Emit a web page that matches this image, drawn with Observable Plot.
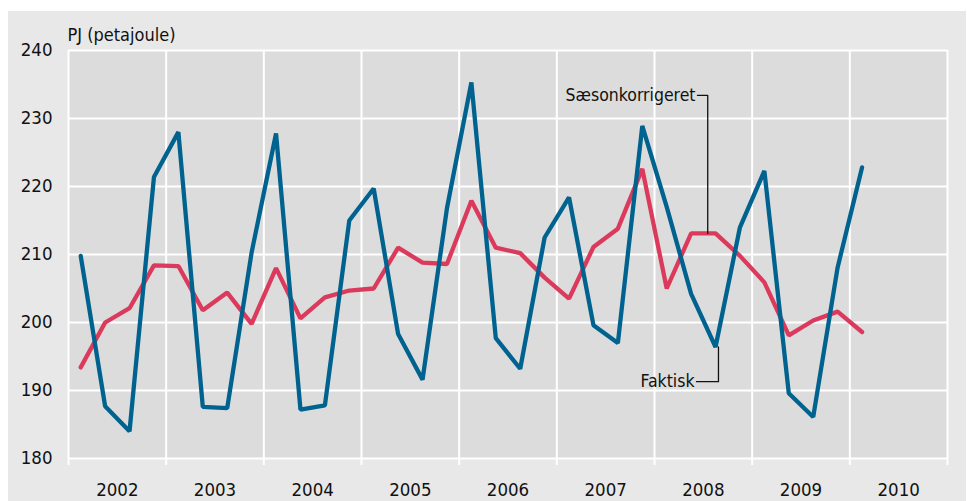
<!DOCTYPE html>
<html>
<head>
<meta charset="utf-8">
<script src="https://cdn.jsdelivr.net/npm/d3@7"></script>
<script src="https://cdn.jsdelivr.net/npm/@observablehq/plot@0.6"></script>
<style>
  html, body { margin: 0; padding: 0; background: #ffffff; }
  #wrap { position: relative; width: 967px; height: 501px; overflow: hidden; }
  #bg { position: absolute; left: 8px; top: 11px; width: 958px; height: 490px; background: #e8e8e8; }
  #chart { position: absolute; left: 0; top: 0; }
</style>
</head>
<body>
<div id="wrap"><div id="bg"></div><div id="chart"></div></div>
<script>
// ---- Data ----
const years = [2002, 2003, 2004, 2005, 2006, 2007, 2008, 2009, 2010];
const quarters = [1, 2, 3, 4];
const faktisk = [
  209.8, 187.7, 184.0, 221.4,
  228.0, 187.6, 187.4, 210.3,
  227.8, 187.2, 187.8, 215.0,
  219.7, 198.3, 191.6, 216.8,
  235.3, 197.7, 193.2, 212.5,
  218.4, 199.6, 197.0, 228.9,
  217.0, 204.2, 196.4, 214.0,
  222.3, 189.6, 186.1, 208.1,
  222.8
];
const saesonkorrigeret = [
  193.4, 200.0, 202.1, 208.4,
  208.3, 201.8, 204.4, 199.8,
  208.0, 200.6, 203.7, 204.7,
  205.0, 211.0, 208.8, 208.6,
  217.9, 211.0, 210.2, 206.6,
  203.5, 211.1, 213.8, 222.6,
  205.0, 213.1, 213.1, 209.8,
  205.9, 198.1, 200.3, 201.6,
  198.6
];
const yTicks = [180, 190, 200, 210, 220, 230, 240];
const unitLabel = "PJ (petajoule)";
const labelSaeson = "Sæsonkorrigeret";
const labelFaktisk = "Faktisk";

// annotation anchors (in data units)
const saesonLeader = [[2008.44, 233.4], [2008.545, 233.4], [2008.545, 213.1]];
const faktiskLeader = [[2008.43, 191.3], [2008.655, 191.3], [2008.655, 196.4]];
const saesonText = [[2008.42, 233.4]];
const faktiskText = [[2008.41, 191.3]];

// ---- Build tables ----
const periods = [];
years.forEach(y => quarters.forEach(q => periods.push({year: y, q})));
const toX = (p) => p.year + (p.q - 0.5) / 4;
const blue = faktisk.map((v, i) => ({x: toX(periods[i]), v}));
const red = saesonkorrigeret.map((v, i) => ({x: toX(periods[i]), v}));
const boundaries = [...years, years[years.length - 1] + 1];
const yearCenters = years.map(y => y + 0.5);

const FONT = "'Liberation Sans Narrow', 'DejaVu Sans Condensed', 'Open Sans', sans-serif";

const chart = Plot.plot({
  width: 967,
  height: 501,
  marginLeft: 68,
  marginRight: 20,
  marginTop: 50,
  marginBottom: 43,
  x: {domain: [2002, 2011], axis: null},
  y: {domain: [180, 240], axis: null},
  style: {fontFamily: FONT, fontSize: "17.5px", background: "transparent", color: "#111111"},
  marks: [
    Plot.frame({fill: "#dcdcdc", stroke: "none"}),
    Plot.gridY(yTicks, {stroke: "white", strokeOpacity: 1, strokeWidth: 2}),
    Plot.gridX(boundaries, {stroke: "white", strokeOpacity: 1, strokeWidth: 2}),
    Plot.axisX(boundaries, {tickSize: 7, tickFormat: () => "", stroke: "white", strokeWidth: 2, label: null}),
    Plot.axisX(yearCenters, {tickSize: 0, tickPadding: 24, tickFormat: d => String(Math.floor(d)), fontSize: 18.5, label: null}),
    Plot.axisY(yTicks, {tickSize: 0, tickPadding: 16, fontSize: 18.5, label: null}),
    Plot.text([unitLabel], {frameAnchor: "top-left", textAnchor: "start", dx: -1, dy: -22, fontSize: 18}),
    Plot.line(red, {x: "x", y: "v", stroke: "#db3a5c", strokeWidth: 4.3, strokeLinejoin: "miter", strokeLinecap: "round"}),
    Plot.line(blue, {x: "x", y: "v", stroke: "#00628f", strokeWidth: 4.3, strokeLinejoin: "miter", strokeLinecap: "round"}),
    Plot.line(saesonLeader, {x: d => d[0], y: d => d[1], stroke: "#111", strokeWidth: 1.3}),
    Plot.line(faktiskLeader, {x: d => d[0], y: d => d[1], stroke: "#111", strokeWidth: 1.3}),
    Plot.text(saesonText, {x: d => d[0], y: d => d[1], text: () => labelSaeson, textAnchor: "end", fontSize: 17.5}),
    Plot.text(faktiskText, {x: d => d[0], y: d => d[1], text: () => labelFaktisk, textAnchor: "end", fontSize: 17.5})
  ]
});
document.getElementById("chart").appendChild(chart);
</script>
</body>
</html>
